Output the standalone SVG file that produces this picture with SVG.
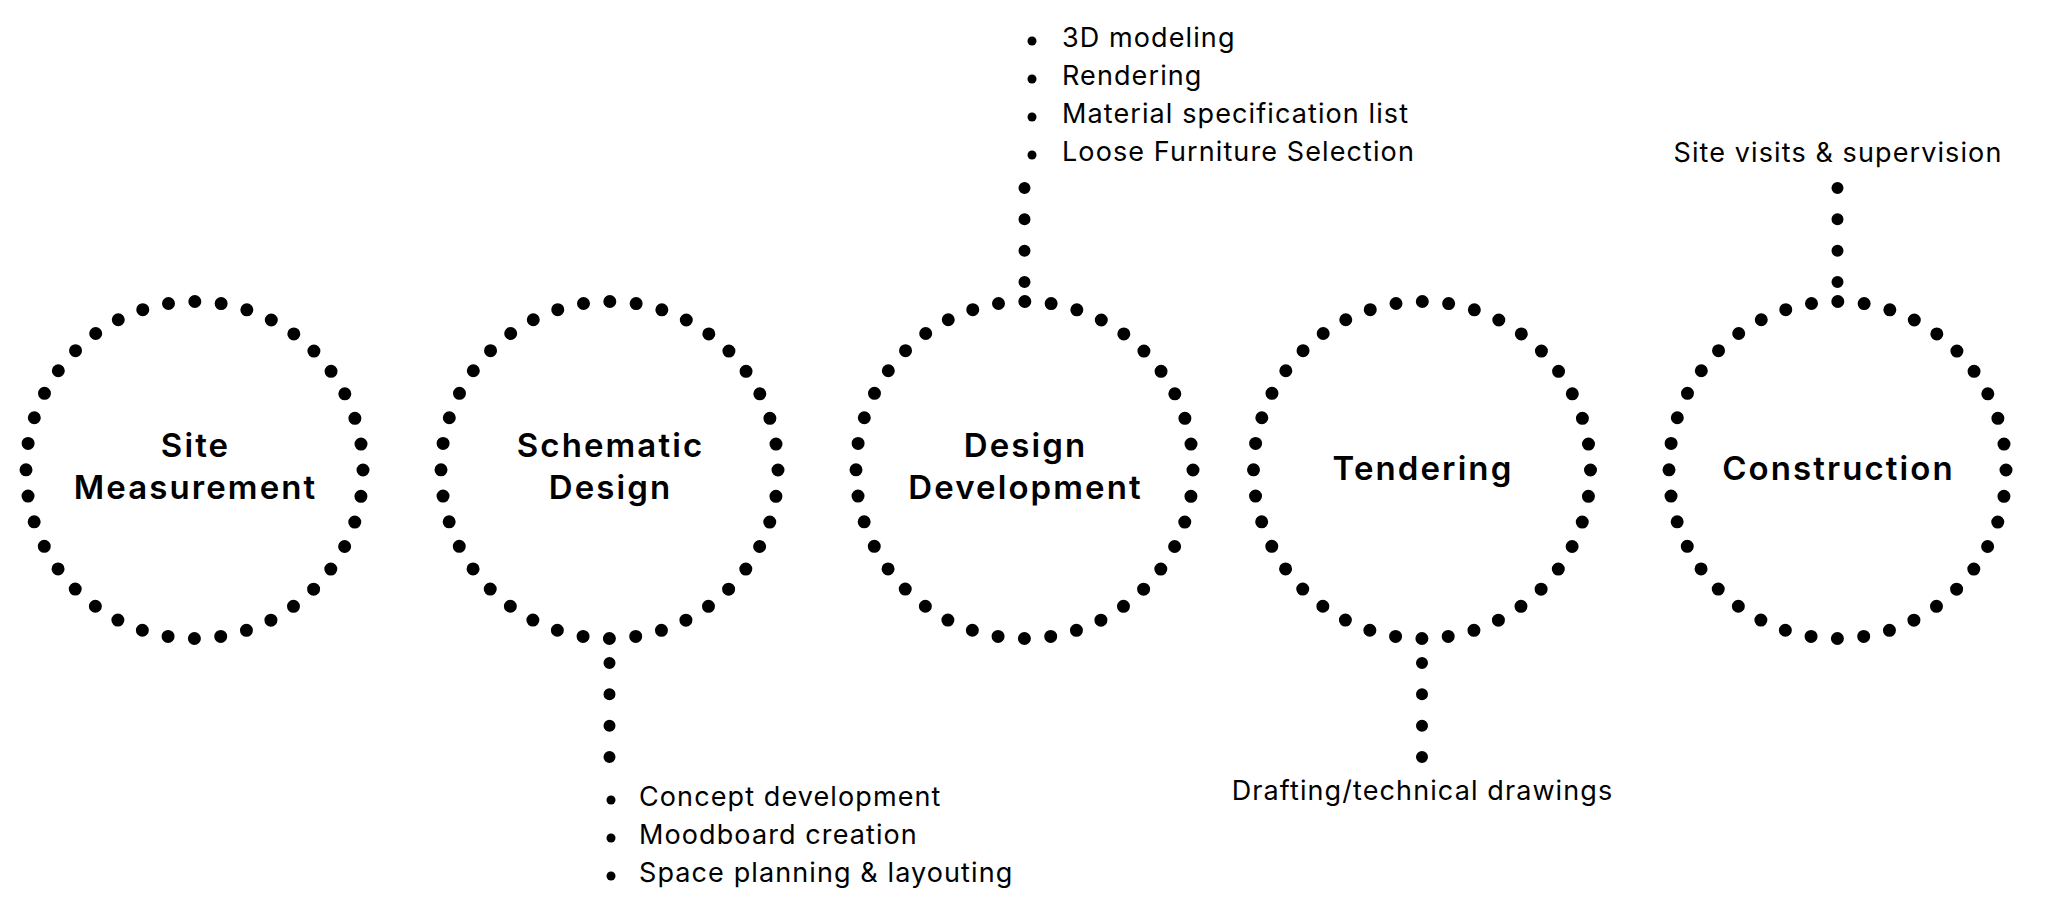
<svg xmlns="http://www.w3.org/2000/svg" width="2048" height="921" viewBox="0 0 2048 921">
<style>
.ring{fill:none;stroke:#000;stroke-width:13;stroke-linecap:round;stroke-dasharray:0 26.4679}
.conn{stroke:#000;stroke-width:12;stroke-linecap:round;stroke-dasharray:0 31.3333}
.title{font-family:Inter,"Liberation Sans",sans-serif;font-weight:600;font-size:33px;letter-spacing:2.1px;fill:#000;text-anchor:middle}
.item{font-family:Inter,"Liberation Sans",sans-serif;font-weight:400;font-size:27px;letter-spacing:1.1px;fill:#000}
.mid{text-anchor:middle}
.bullet{fill:#000}
</style>
<rect width="2048" height="921" fill="#fff"/>
<g id="connectors">
<line class="conn" x1="609.5" y1="663" x2="609.5" y2="757"/>
<line class="conn" x1="1024.5" y1="188" x2="1024.5" y2="282"/>
<line class="conn" x1="1422" y1="663" x2="1422" y2="757"/>
<line class="conn" x1="1837.5" y1="188" x2="1837.5" y2="282"/>
</g>
<g id="site-measurement">
<circle class="ring" cx="194.5" cy="470" r="168.5"/>
<text class="title" x="195.5" y="457">Site</text>
<text class="title" x="195.5" y="499">Measurement</text>
</g>
<g id="schematic-design">
<circle class="ring" cx="609.5" cy="470" r="168.5"/>
<text class="title" x="610.5" y="457">Schematic</text>
<text class="title" x="610.5" y="499">Design</text>
</g>
<g id="design-development">
<circle class="ring" cx="1024.5" cy="470" r="168.5"/>
<text class="title" x="1025.5" y="457">Design</text>
<text class="title" x="1025.5" y="499">Development</text>
</g>
<g id="tendering">
<circle class="ring" cx="1422" cy="470" r="168.5"/>
<text class="title" x="1423" y="480">Tendering</text>
</g>
<g id="construction">
<circle class="ring" cx="1837.5" cy="470" r="168.5"/>
<text class="title" x="1838.5" y="480">Construction</text>
</g>
<g id="schematic-list">
<circle class="bullet" cx="611" cy="800" r="4.5"/>
<circle class="bullet" cx="611" cy="838" r="4.5"/>
<circle class="bullet" cx="611" cy="876" r="4.5"/>
<text class="item" x="639" y="806">Concept development</text>
<text class="item" x="639" y="844">Moodboard creation</text>
<text class="item" x="639" y="882">Space planning &amp; layouting</text>
</g>
<g id="development-list">
<circle class="bullet" cx="1032" cy="41" r="4.5"/>
<circle class="bullet" cx="1032" cy="79" r="4.5"/>
<circle class="bullet" cx="1032" cy="117" r="4.5"/>
<circle class="bullet" cx="1032" cy="155" r="4.5"/>
<text class="item" x="1062" y="47">3D modeling</text>
<text class="item" x="1062" y="85">Rendering</text>
<text class="item" x="1062" y="123">Material specification list</text>
<text class="item" x="1062" y="161">Loose Furniture Selection</text>
</g>
<g id="tendering-label">
<text class="item mid" x="1422.5" y="800">Drafting/technical drawings</text>
</g>
<g id="construction-label">
<text class="item mid" x="1838" y="162">Site visits &amp; supervision</text>
</g>
</svg>
